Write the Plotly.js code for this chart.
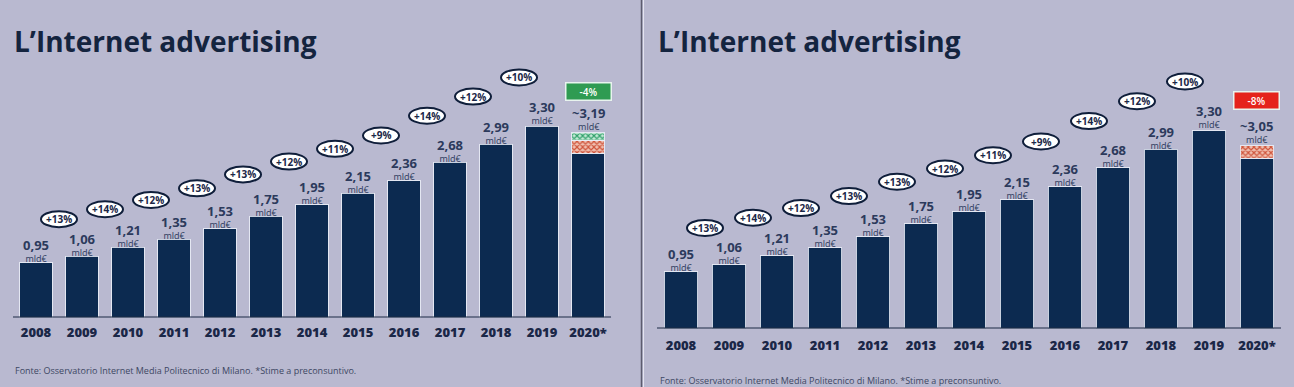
<!DOCTYPE html>
<html>
<head>
<meta charset="utf-8">
<script src="https://cdn.plot.ly/plotly-3.0.1.min.js"></script>
<style>
html,body{margin:0;padding:0;background:#b9b9d0;}
#chart{width:1294px;height:387px;}
</style>
</head>
<body>
<div id="chart"></div>
<script>
// ---------- DATA ----------
const years = ['2008','2009','2010','2011','2012','2013','2014','2015','2016','2017','2018','2019','2020*'];
const leftValues  = [0.95,1.06,1.21,1.35,1.53,1.75,1.95,2.15,2.36,2.68,2.99,3.30,3.19];
const rightValues = [0.95,1.06,1.21,1.35,1.53,1.75,1.95,2.15,2.36,2.68,2.99,3.30,3.05];
const leftGrowth  = ['+13%','+14%','+12%','+13%','+13%','+12%','+11%','+9%','+14%','+12%','+10%'];
const rightGrowth = ['+13%','+14%','+12%','+13%','+13%','+12%','+11%','+9%','+14%','+12%','+10%'];
// 2020 estimate split: solid part + hatched parts
const leftBase2020 = 2.84, leftRed2020 = 0.22, leftGreen2020 = 0.13;
const rightBase2020 = 2.84, rightRed2020 = 0.21;
const leftChange2020 = '-4%';
const rightChange2020 = '-8%';
const unitLabel = 'mld€';
const titleText = 'L’Internet advertising';
const sourceText = 'Fonte: Osservatorio Internet Media Politecnico di Milano. *Stime a preconsuntivo.';

// ---------- STYLE ----------
const BG = '#b9b9d0';
const NAVY = '#0c2a50';
const TEXT = '#1b2747';
const FONT = 'Open Sans';
const last = years.length - 1;

function fmt(v){ return v.toFixed(2).replace('.', ','); }

function solidHeights(vals, base2020){
  return vals.map((v,i)=> i===last ? base2020 : v);
}
function only2020(v){ return years.map((y,i)=> i===last ? v : null); }

const barLine = {color:'rgba(235,238,248,0.85)', width:1};
const redPattern = {shape:'x', fgcolor:'#cf553c', bgcolor:'#f0bfb0', size:4, solidity:0.5};
const greenPattern = {shape:'x', fgcolor:'#2f9f6a', bgcolor:'#c4eAd6', size:4, solidity:0.5};

const traces = [
  {type:'bar', x:years, y:solidHeights(leftValues, leftBase2020), xaxis:'x', yaxis:'y',
   marker:{color:NAVY, line:barLine}, width:0.70, hoverinfo:'skip'},
  {type:'bar', x:years, y:only2020(leftRed2020), xaxis:'x', yaxis:'y', width:0.70,
   marker:{color:'#f0c4b6', line:barLine, pattern:redPattern}, hoverinfo:'skip'},
  {type:'bar', x:years, y:only2020(leftGreen2020), xaxis:'x', yaxis:'y', width:0.70,
   marker:{color:'#c6ead6', line:barLine, pattern:greenPattern}, hoverinfo:'skip'},
  {type:'bar', x:years, y:solidHeights(rightValues, rightBase2020), xaxis:'x2', yaxis:'y2',
   marker:{color:NAVY, line:barLine}, width:0.69, hoverinfo:'skip'},
  {type:'bar', x:years, y:only2020(rightRed2020), xaxis:'x2', yaxis:'y2', width:0.69,
   marker:{color:'#f0c4b6', line:barLine, pattern:redPattern}, hoverinfo:'skip'}
];

const annotations = [];
const shapes = [];

function panel(xr, yr, vals, growth, change, changeColor, changeShift, extraShift){
  vals.forEach((v,i)=>{
    const pre = i===last ? '~' : '';
    annotations.push({xref:xr, yref:yr, x:i, y:v, yanchor:'middle', yshift:12+(i>=last-1?extraShift:0),
      text:'<span style="font-size:13px;font-weight:800"><b>'+pre+fmt(v)+'</b></span><br>'+unitLabel,
      showarrow:false, align:'center',
      font:{family:FONT, size:9, color:'#2c3a5c'}});
  });
  growth.forEach((g,i)=>{
    const off = 37 + 1.2*i;
    shapes.push({type:'circle', xref:xr, yref:yr, xsizemode:'pixel', ysizemode:'pixel',
      xanchor:i+0.5, yanchor:vals[i+1], x0:-18, x1:18, y0:off-8, y1:off+8,
      fillcolor:'#ffffff', line:{color:'#0f1e3a', width:2}, layer:'above'});
    annotations.push({xref:xr, yref:yr, x:i+0.5, y:vals[i+1], yshift:off, text:'<b>'+g+'</b>', showarrow:false,
      font:{family:FONT, size:10, color:TEXT, weight:800}});
  });
  annotations.push({xref:xr, yref:yr, x:last, y:vals[last], yshift:changeShift, text:change, showarrow:false,
    bgcolor:changeColor, bordercolor:'#e8f4ee', borderwidth:1.5, width:42, height:14,
    font:{family:FONT, size:10, color:'#ffffff', weight:600}});
  shapes.push({type:'line', xref:xr, yref:yr, x0:-0.5, x1:last+0.5, y0:0, y1:0,
    line:{color:'#1d2a44', width:2}, layer:'above'});
}

panel('x','y', leftValues, leftGrowth, leftChange2020, '#2f9b52', 41, 2);
panel('x2','y2', rightValues, rightGrowth, rightChange2020, '#e5231b', 45, 2);

// titles and sources
annotations.push({xref:'paper', yref:'paper', x:12/1294, y:1-41/387, xanchor:'left', yanchor:'middle', showarrow:false,
  text:'<b>'+titleText+'</b>', font:{family:FONT, size:28, color:'#14243f', weight:800}});
annotations.push({xref:'paper', yref:'paper', x:656/1294, y:1-41/387, xanchor:'left', yanchor:'middle', showarrow:false,
  text:'<b>'+titleText+'</b>', font:{family:FONT, size:28, color:'#14243f', weight:800}});
annotations.push({xref:'paper', yref:'paper', x:13/1294, y:1-370/387, xanchor:'left', yanchor:'middle', showarrow:false,
  text:sourceText, font:{family:FONT, size:9, color:'#3d4763'}});
annotations.push({xref:'paper', yref:'paper', x:658/1294, y:1-380/387, xanchor:'left', yanchor:'middle', showarrow:false,
  text:sourceText, font:{family:FONT, size:9, color:'#3d4763'}});

// divider between panels
shapes.push({type:'line', xref:'paper', yref:'paper', x0:641.5/1294, x1:641.5/1294, y0:0, y1:1,
  line:{color:'#5c5c6e', width:1.5}});
shapes.push({type:'line', xref:'paper', yref:'paper', x0:643.5/1294, x1:643.5/1294, y0:0, y1:1,
  line:{color:'#e4e4f0', width:1}});

const tickFont = {family:FONT, size:13, color:TEXT, weight:800};

const layout = {
  width:1294, height:387,
  margin:{l:0, r:0, t:0, b:0},
  paper_bgcolor:BG, plot_bgcolor:'rgba(0,0,0,0)',
  showlegend:false, barmode:'stack', bargap:0.3,
  xaxis:{domain:[0, 640/1294], anchor:'y', type:'category', range:[-0.7826, 13.13],
    showgrid:false, zeroline:false, showline:false, ticks:'', tickfont:tickFont, ticklabelstandoff:5, fixedrange:true},
  yaxis:{domain:[(387-317.5)/387, 1], anchor:'x', range:[0, 317.5/57.9], visible:false, fixedrange:true},
  xaxis2:{domain:[643/1294, 1], anchor:'y2', type:'category', range:[-0.7917, 12.771],
    showgrid:false, zeroline:false, showline:false, ticks:'', tickfont:tickFont, ticklabelstandoff:7, fixedrange:true},
  yaxis2:{domain:[(387-328.5)/387, 1], anchor:'x2', range:[0, 328.5/60], visible:false, fixedrange:true},
  annotations:annotations,
  shapes:shapes
};

Plotly.newPlot('chart', traces, layout, {displayModeBar:false, staticPlot:true});
</script>
</body>
</html>
